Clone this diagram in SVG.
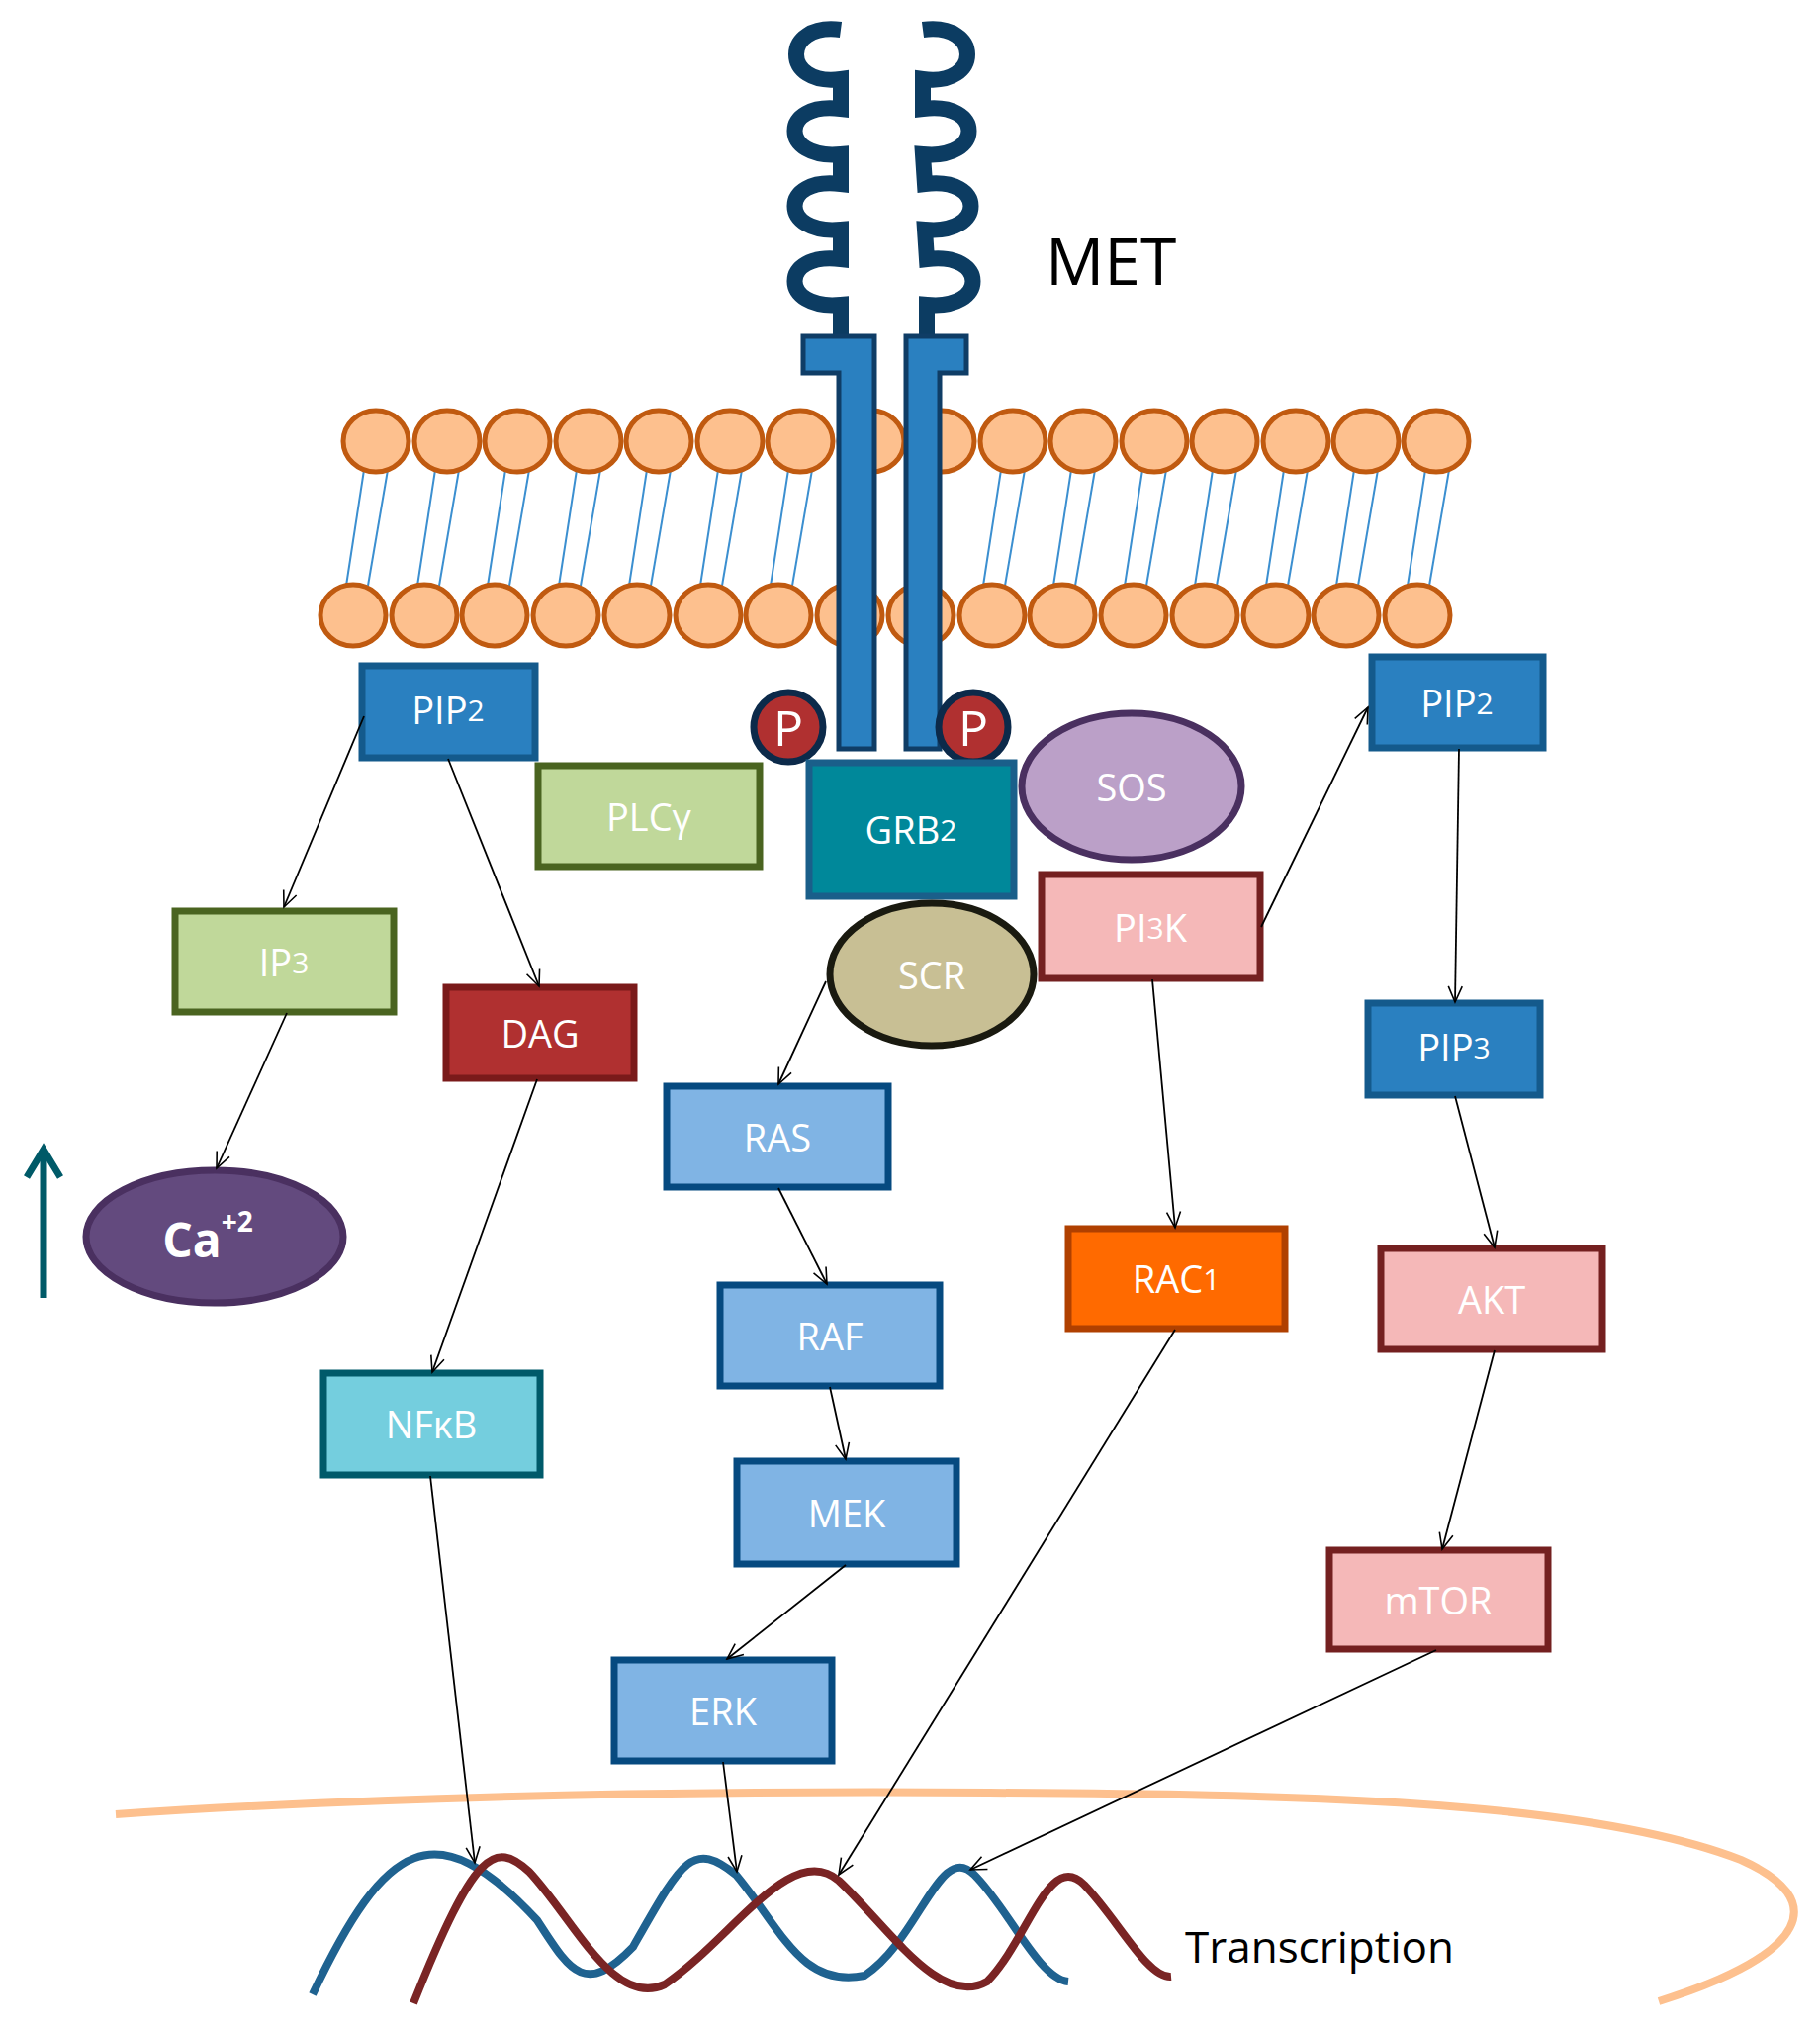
<svg xmlns="http://www.w3.org/2000/svg" width="1840" height="2051" viewBox="0 0 1840 2051">
<defs>
<marker id="ah" viewBox="0 0 20 20" refX="18" refY="10" markerWidth="20" markerHeight="20" markerUnits="userSpaceOnUse" orient="auto">
<path d="M2,3 L18,10 L2,17" fill="none" stroke="#000" stroke-width="1.6"/>
</marker>
<style>
.lbl{font-family:"Open Sans","Liberation Sans",sans-serif;font-size:38px;fill:#fff;text-anchor:middle;dominant-baseline:central}
.sub{font-size:30px}
.conn line{stroke:#000;stroke-width:1.8;marker-end:url(#ah)}
.head{fill:#fdc08e;stroke:#c05a10;stroke-width:5}
.tail{stroke:#3b8fd0;stroke-width:2}
.blue{fill:#2a80c0;stroke:#145a8c;stroke-width:7}
.green{fill:#c0d89a;stroke:#4a6420;stroke-width:7}
.lb{fill:#80b4e4;stroke:#064a80;stroke-width:7}
.pink{fill:#f5b8b8;stroke:#742020;stroke-width:7}
.sq{fill:none;stroke:#0c3c62;stroke-width:16}
</style>
</defs>
<rect width="1840" height="2051" fill="#fff"/>

<g id="membrane">
<g class="tail">
<line x1="368" y1="475" x2="350" y2="592"/><line x1="392" y1="475" x2="372" y2="592"/>
<line x1="440" y1="475" x2="422" y2="592"/><line x1="464" y1="475" x2="444" y2="592"/>
<line x1="511" y1="475" x2="493" y2="592"/><line x1="535" y1="475" x2="515" y2="592"/>
<line x1="583" y1="475" x2="565" y2="592"/><line x1="607" y1="475" x2="587" y2="592"/>
<line x1="654" y1="475" x2="636" y2="592"/><line x1="678" y1="475" x2="658" y2="592"/>
<line x1="726" y1="475" x2="708" y2="592"/><line x1="750" y1="475" x2="730" y2="592"/>
<line x1="797" y1="475" x2="779" y2="592"/><line x1="821" y1="475" x2="801" y2="592"/>
<line x1="1012" y1="475" x2="994" y2="592"/><line x1="1036" y1="475" x2="1016" y2="592"/>
<line x1="1083" y1="475" x2="1065" y2="592"/><line x1="1107" y1="475" x2="1087" y2="592"/>
<line x1="1155" y1="475" x2="1137" y2="592"/><line x1="1179" y1="475" x2="1159" y2="592"/>
<line x1="1226" y1="475" x2="1208" y2="592"/><line x1="1250" y1="475" x2="1230" y2="592"/>
<line x1="1298" y1="475" x2="1280" y2="592"/><line x1="1322" y1="475" x2="1302" y2="592"/>
<line x1="1369" y1="475" x2="1351" y2="592"/><line x1="1393" y1="475" x2="1373" y2="592"/>
<line x1="1441" y1="475" x2="1423" y2="592"/><line x1="1465" y1="475" x2="1445" y2="592"/>
</g>
<g class="head">
<ellipse cx="380" cy="446" rx="33" ry="31"/><ellipse cx="452" cy="446" rx="33" ry="31"/><ellipse cx="523" cy="446" rx="33" ry="31"/><ellipse cx="595" cy="446" rx="33" ry="31"/><ellipse cx="666" cy="446" rx="33" ry="31"/><ellipse cx="738" cy="446" rx="33" ry="31"/><ellipse cx="809" cy="446" rx="33" ry="31"/><ellipse cx="881" cy="446" rx="33" ry="31"/><ellipse cx="952" cy="446" rx="33" ry="31"/><ellipse cx="1024" cy="446" rx="33" ry="31"/><ellipse cx="1095" cy="446" rx="33" ry="31"/><ellipse cx="1167" cy="446" rx="33" ry="31"/><ellipse cx="1238" cy="446" rx="33" ry="31"/><ellipse cx="1310" cy="446" rx="33" ry="31"/><ellipse cx="1381" cy="446" rx="33" ry="31"/><ellipse cx="1452" cy="446" rx="33" ry="31"/>
<ellipse cx="357" cy="622" rx="33" ry="31"/><ellipse cx="429" cy="622" rx="33" ry="31"/><ellipse cx="500" cy="622" rx="33" ry="31"/><ellipse cx="572" cy="622" rx="33" ry="31"/><ellipse cx="644" cy="622" rx="33" ry="31"/><ellipse cx="716" cy="622" rx="33" ry="31"/><ellipse cx="787" cy="622" rx="33" ry="31"/><ellipse cx="859" cy="622" rx="33" ry="31"/><ellipse cx="931" cy="622" rx="33" ry="31"/><ellipse cx="1003" cy="622" rx="33" ry="31"/><ellipse cx="1074" cy="622" rx="33" ry="31"/><ellipse cx="1146" cy="622" rx="33" ry="31"/><ellipse cx="1218" cy="622" rx="33" ry="31"/><ellipse cx="1290" cy="622" rx="33" ry="31"/><ellipse cx="1361" cy="622" rx="33" ry="31"/><ellipse cx="1433" cy="622" rx="33" ry="31"/>
</g>
</g>

<g id="MET">
<path class="sq" d="M850,30 C790,22 790,88 850,80 L850,110 C788,102 788,162 850,156 L850,186 C788,178 788,238 850,232 L850,262 C788,254 788,314 850,308 L850,342"/>
<path class="sq" d="M933,30 C993,22 993,88 933,80 L933,110 C995,102 995,162 933,156 L935,186 C997,178 997,238 935,232 L937,262 C999,254 999,314 937,308 L937,342"/>
<path d="M812,340 H884 V757 H848 V377 H812 Z" fill="#2a80c0" stroke="#0f3d66" stroke-width="5"/>
<path d="M916,340 H977 V377 H950 V757 H916 Z" fill="#2a80c0" stroke="#0f3d66" stroke-width="5"/>
<text x="1057" y="288" font-family="'Open Sans','Liberation Sans',sans-serif" font-size="66" fill="#000">MET</text>
</g>

<g id="P1"><circle cx="797" cy="735" r="35" fill="#b03030" stroke="#0c2a4a" stroke-width="7"/><text class="lbl" x="797" y="735" font-size="50" style="font-size:50px">P</text></g>
<g id="P2"><circle cx="984" cy="735" r="35" fill="#b03030" stroke="#0c2a4a" stroke-width="7"/><text class="lbl" x="984" y="735" style="font-size:50px">P</text></g>

<g id="PIP2L"><rect class="blue" x="366" y="673" width="175" height="93"/><text class="lbl" x="453" y="717">PIP<tspan class="sub">2</tspan></text></g>
<g id="PLCg"><rect class="green" x="544" y="774" width="224" height="102"/><text class="lbl" x="656" y="825">PLCγ</text></g>
<g id="GRB2"><rect x="818" y="771" width="207" height="135" fill="#00889a" stroke="#1a5f8a" stroke-width="7"/><text class="lbl" x="921" y="838">GRB<tspan class="sub">2</tspan></text></g>
<g id="SOS"><ellipse cx="1144" cy="795" rx="111" ry="74" fill="#bba0c8" stroke="#4a3060" stroke-width="7"/><text class="lbl" x="1144" y="795">SOS</text></g>
<g id="PIP2R"><rect class="blue" x="1387" y="664" width="173" height="92"/><text class="lbl" x="1473" y="710">PIP<tspan class="sub">2</tspan></text></g>
<g id="PI3K"><rect class="pink" x="1053" y="884" width="221" height="105"/><text class="lbl" x="1163" y="937">PI<tspan class="sub">3</tspan>K</text></g>
<g id="SCR"><ellipse cx="942" cy="985" rx="103" ry="72" fill="#c8bf94" stroke="#1a1a10" stroke-width="7"/><text class="lbl" x="942" y="985">SCR</text></g>
<g id="IP3"><rect class="green" x="177" y="921" width="221" height="102"/><text class="lbl" x="287" y="972">IP<tspan class="sub">3</tspan></text></g>
<g id="DAG"><rect x="451" y="998" width="190" height="92" fill="#b03030" stroke="#7a1a1a" stroke-width="7"/><text class="lbl" x="546" y="1044">DAG</text></g>
<g id="Ca"><ellipse cx="217" cy="1250" rx="130" ry="67" fill="#634a7e" stroke="#4a3060" stroke-width="7"/><text class="lbl" x="210" y="1252" style="font-size:48px;font-weight:bold">Ca<tspan style="font-size:28px" dy="-18">+2</tspan></text></g>
<g id="uparrow"><line x1="44" y1="1312" x2="44" y2="1166" stroke="#005a68" stroke-width="7"/><path d="M27,1190 L44,1162 L61,1190" fill="none" stroke="#005a68" stroke-width="7"/></g>
<g id="RAS"><rect class="lb" x="674" y="1098" width="224" height="102"/><text class="lbl" x="786" y="1149">RAS</text></g>
<g id="PIP3"><rect class="blue" x="1383" y="1014" width="174" height="93"/><text class="lbl" x="1470" y="1058">PIP<tspan class="sub">3</tspan></text></g>
<g id="RAC1"><rect x="1080" y="1242" width="219" height="101" fill="#ff6a00" stroke="#b04000" stroke-width="7"/><text class="lbl" x="1189" y="1292">RAC<tspan class="sub">1</tspan></text></g>
<g id="AKT"><rect class="pink" x="1396" y="1262" width="224" height="102"/><text class="lbl" x="1508" y="1313">AKT</text></g>
<g id="RAF"><rect class="lb" x="728" y="1299" width="222" height="102"/><text class="lbl" x="839" y="1350">RAF</text></g>
<g id="NFkB"><rect x="327" y="1388" width="219" height="103" fill="#74cede" stroke="#005a6a" stroke-width="7"/><text class="lbl" x="436" y="1439">NFκB</text></g>
<g id="MEK"><rect class="lb" x="745" y="1477" width="222" height="104"/><text class="lbl" x="856" y="1529">MEK</text></g>
<g id="mTOR"><rect class="pink" x="1344" y="1567" width="221" height="100"/><text class="lbl" x="1454" y="1617">mTOR</text></g>
<g id="ERK"><rect class="lb" x="621" y="1678" width="220" height="102"/><text class="lbl" x="731" y="1729">ERK</text></g>

<g id="nucleus">
<path d="M117,1834 C400,1815 700,1810 1000,1812 C1300,1814 1600,1818 1760,1880 C1850,1920 1830,1975 1677,2023" fill="none" stroke="#fdc08e" stroke-width="8"/>
<path d="M316,2016 C390,1860 440,1830 543,1941 C575,1990 590,2020 640,1968 C690,1880 700,1860 744,1895 C790,1950 810,2010 874,1997 C930,1960 950,1860 985,1895 C1020,1930 1050,2000 1080,2003" fill="none" stroke="#1f6290" stroke-width="8"/>
<path d="M418,2025 C480,1870 500,1860 535,1892 C580,1940 620,2030 672,2006 C740,1960 800,1860 848,1901 C900,1950 950,2030 998,2003 C1040,1960 1060,1870 1096,1905 C1130,1940 1160,2000 1184,1998" fill="none" stroke="#7a2424" stroke-width="8"/>
<text x="1198" y="1984" font-family="'Open Sans','Liberation Sans',sans-serif" font-size="44" fill="#000">Transcription</text>
</g>

<g class="conn">
<line x1="368" y1="724" x2="287" y2="917"/>
<line x1="453" y1="767" x2="545" y2="997"/>
<line x1="290" y1="1024" x2="219" y2="1181"/>
<line x1="543" y1="1091" x2="437" y2="1387"/>
<line x1="835" y1="992" x2="787" y2="1096"/>
<line x1="787" y1="1201" x2="836" y2="1298"/>
<line x1="839" y1="1402" x2="855" y2="1475"/>
<line x1="855" y1="1582" x2="735" y2="1677"/>
<line x1="1275" y1="937" x2="1383" y2="715"/>
<line x1="1165" y1="990" x2="1188" y2="1241"/>
<line x1="1475" y1="757" x2="1471" y2="1013"/>
<line x1="1471" y1="1108" x2="1511" y2="1261"/>
<line x1="1511" y1="1365" x2="1458" y2="1566"/>
<line x1="435" y1="1492" x2="480" y2="1883"/>
<line x1="731" y1="1781" x2="745" y2="1892"/>
<line x1="1188" y1="1344" x2="848" y2="1895"/>
<line x1="1452" y1="1668" x2="981" y2="1890"/>
</g>
</svg>
